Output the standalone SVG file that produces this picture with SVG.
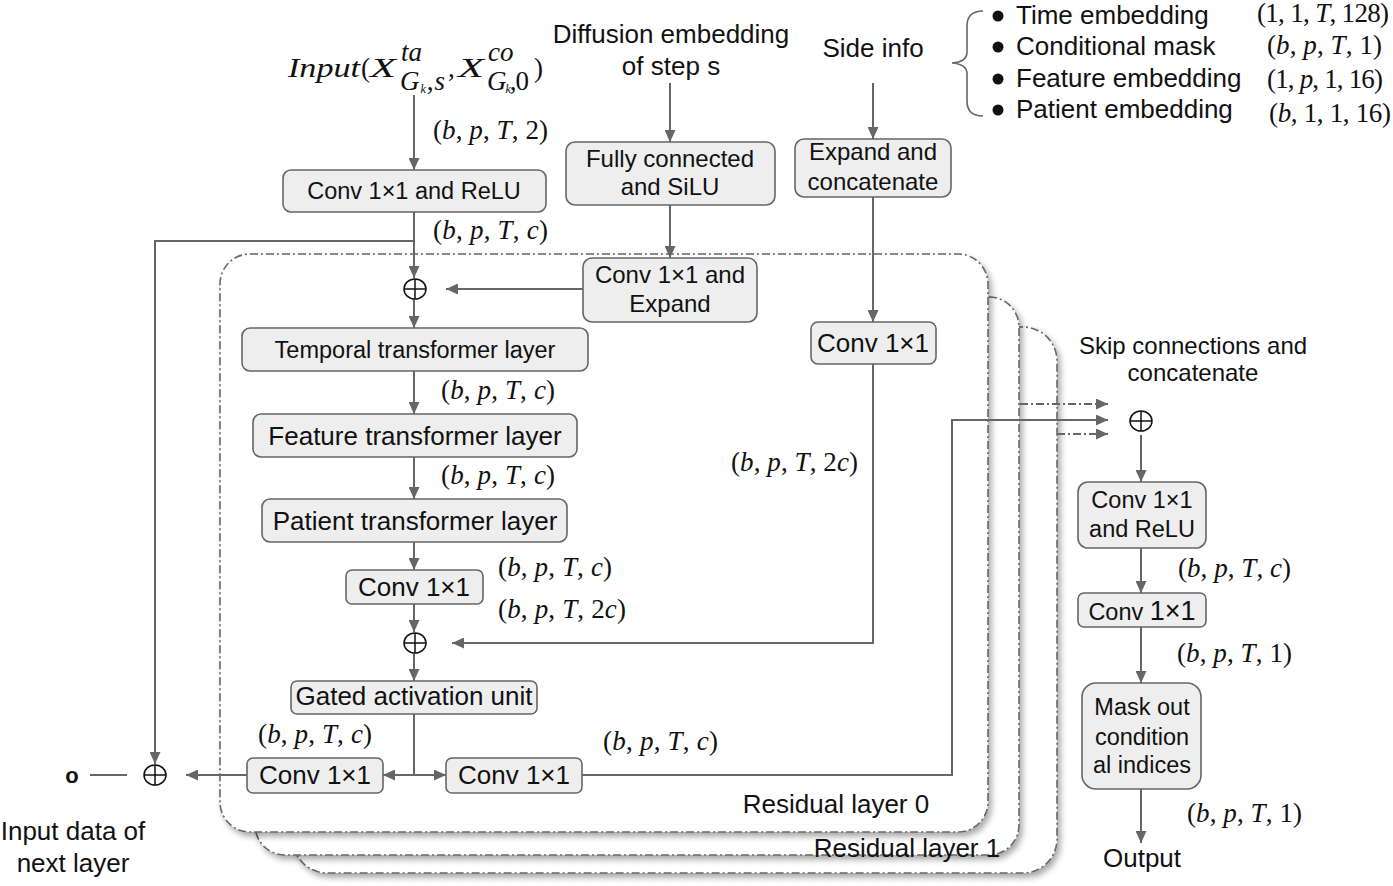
<svg xmlns="http://www.w3.org/2000/svg" width="1393" height="886" viewBox="0 0 1393 886">
<style>
.bx{fill:#eeeeee;stroke:#666;stroke-width:1.6}
.t{font-family:"Liberation Sans",Arial,sans-serif;fill:#111;text-anchor:middle}
.s24{font-size:24px}
.s26{font-size:26px}
.m{font-family:"Liberation Serif","Times New Roman",serif;font-size:27px;fill:#111}
.i{font-style:italic}
.n{font-style:normal}
.c{fill:none;stroke:#666;stroke-width:2}
.dd{stroke-dasharray:8 3 2 3}
.fr{fill:#fff;stroke:#666;stroke-width:1.6;stroke-dasharray:8 3 2 3}
.op{fill:none;stroke:#111;stroke-width:1.5}
</style>
<defs>
<marker id="ah" markerUnits="userSpaceOnUse" markerWidth="13" markerHeight="11" refX="12" refY="5.5" orient="auto">
<path d="M0,0 L12,5.5 L0,11 z" fill="#666"/>
</marker>
<filter id="sh" x="-5%" y="-5%" width="112%" height="112%">
<feDropShadow dx="3" dy="4" stdDeviation="3" flood-color="#000" flood-opacity="0.35"/>
</filter>
</defs>
<rect width="1393" height="886" fill="#fff"/>

<g id="frames">
<rect class="fr" x="293" y="327" width="764" height="546" rx="34" filter="url(#sh)"/>
<rect class="fr" x="255" y="297" width="764" height="558" rx="30" filter="url(#sh)"/>
<text class="t s26" x="907" y="857">Residual layer 1</text>
<rect class="fr" x="220" y="254" width="768" height="578" rx="30" filter="url(#sh)"/>
<text class="t s26" x="836" y="813">Residual layer 0</text>
</g>

<g id="connectors">
<path class="c" d="M414,95 V170" marker-end="url(#ah)"/>
<path class="c" d="M414,212 V278" marker-end="url(#ah)"/>
<path class="c" d="M414,241 H155 V764" marker-end="url(#ah)"/>
<path class="c" d="M414,300 V328" marker-end="url(#ah)"/>
<path class="c" d="M414,371 V414" marker-end="url(#ah)"/>
<path class="c" d="M414,457 V499" marker-end="url(#ah)"/>
<path class="c" d="M414,542 V570" marker-end="url(#ah)"/>
<path class="c" d="M414,604 V632" marker-end="url(#ah)"/>
<path class="c" d="M414,654 V681" marker-end="url(#ah)"/>
<path class="c" d="M414,714 V775"/>
<path class="c" d="M414,775 H383" marker-end="url(#ah)"/>
<path class="c" d="M414,775 H446" marker-end="url(#ah)"/>
<path class="c" d="M247,775 H186" marker-end="url(#ah)"/>
<path d="M90,775 H127" stroke="#333" stroke-width="1.5"/>
<path class="c" d="M670,83 V142" marker-end="url(#ah)"/>
<path class="c" d="M670,205 V258" marker-end="url(#ah)"/>
<path class="c" d="M583,289 H446" marker-end="url(#ah)"/>
<path class="c" d="M873,83 V139" marker-end="url(#ah)"/>
<path class="c" d="M873,197 V322" marker-end="url(#ah)"/>
<path class="c" d="M873,364 V643 H452" marker-end="url(#ah)"/>
<path class="c" d="M582,775 H952 V420 H1108" marker-end="url(#ah)"/>
<path class="c dd" d="M1020,404 H1108" marker-end="url(#ah)"/>
<path class="c dd" d="M1057,434 H1108" marker-end="url(#ah)"/>
<path class="c" d="M1141,435 V482" marker-end="url(#ah)"/>
<path class="c" d="M1141,548 V593" marker-end="url(#ah)"/>
<path class="c" d="M1141,627 V683" marker-end="url(#ah)"/>
<path class="c" d="M1141,789 V843" marker-end="url(#ah)"/>
</g>

<g id="ops">
<g id="add1"><ellipse class="op" cx="415" cy="289" rx="11" ry="10"/><path class="op" d="M404,289 H426 M415,279 V299"/></g>
<g id="add2"><ellipse class="op" cx="415" cy="643" rx="11" ry="10"/><path class="op" d="M404,643 H426 M415,633 V653"/></g>
<g id="add3"><ellipse class="op" cx="155" cy="775" rx="11" ry="10"/><path class="op" d="M144,775 H166 M155,765 V785"/></g>
<g id="add4"><ellipse class="op" cx="1141" cy="421" rx="11" ry="10"/><path class="op" d="M1130,421 H1152 M1141,411 V431"/></g>
</g>

<g id="input">
<text class="m i" x="288" y="77" font-size="30" textLength="72" lengthAdjust="spacingAndGlyphs">Input</text>
<text class="m" x="361" y="77" font-size="30">(</text>
<text class="m i" x="370" y="77" font-size="32" textLength="26" lengthAdjust="spacingAndGlyphs">X</text>
<text class="m i" x="401" y="61" font-size="19">ta</text>
<text class="m i" x="400" y="90" font-size="18" textLength="45">G<tspan font-size="12" dy="3">k</tspan><tspan class="n" dy="-3">,</tspan>s</text>
<text class="m" x="448" y="77" font-size="30">,</text>
<text class="m i" x="458" y="77" font-size="32" textLength="26" lengthAdjust="spacingAndGlyphs">X</text>
<text class="m i" x="488" y="61" font-size="19">co</text>
<text class="m i" x="487" y="90" font-size="18" textLength="42">G<tspan font-size="12" dy="3">k</tspan><tspan class="n" dy="-3">,0</tspan></text>
<text class="m" x="534" y="77" font-size="30">)</text>
</g>

<g id="diffusion"><text class="t s26" x="671" y="43">Diffusion embedding</text><text class="t s26" x="671" y="75">of step s</text></g>
<g id="sideinfo"><text class="t s26" x="873" y="57">Side info</text></g>

<g id="legend">
<path d="M983,11 Q967,11 967,26 V52 Q967,62 952,63 Q967,64 967,74 V101 Q967,116 983,116" fill="none" stroke="#666" stroke-width="1.6"/>
<circle cx="998" cy="16" r="5.5" fill="#111"/>
<circle cx="998" cy="47" r="5.5" fill="#111"/>
<circle cx="998" cy="79" r="5.5" fill="#111"/>
<circle cx="998" cy="110" r="5.5" fill="#111"/>
<text class="t s26" x="1016" y="24" style="text-anchor:start">Time embedding</text>
<text class="t s26" x="1016" y="55" style="text-anchor:start">Conditional mask</text>
<text class="t s26" x="1016" y="87" style="text-anchor:start">Feature embedding</text>
<text class="t s26" x="1016" y="118" style="text-anchor:start">Patient embedding</text>
<text class="m" x="1257" y="22" textLength="132">(1, 1, <tspan class="i">T</tspan>, 128)</text>
<text class="m" x="1267" y="54" textLength="115">(<tspan class="i">b</tspan>, <tspan class="i">p</tspan>, <tspan class="i">T</tspan>, 1)</text>
<text class="m" x="1267" y="88" textLength="116">(1, <tspan class="i">p</tspan>, 1, 16)</text>
<text class="m" x="1269" y="122" textLength="122">(<tspan class="i">b</tspan>, 1, 1, 16)</text>
</g>

<g id="conv_relu"><rect class="bx" x="283" y="170" width="263" height="42" rx="8"/><text class="t" font-size="23.5" x="414" y="199">Conv 1×1 and ReLU</text></g>
<g id="fc_silu"><rect class="bx" x="566" y="142" width="209" height="63" rx="9"/><text class="t s24" x="670" y="167">Fully connected</text><text class="t s24" x="670" y="195">and SiLU</text></g>
<g id="expand_concat"><rect class="bx" x="795" y="139" width="156" height="58" rx="9"/><text class="t s24" x="873" y="160">Expand and</text><text class="t s24" x="873" y="190">concatenate</text></g>
<g id="conv_expand"><rect class="bx" x="583" y="258" width="174" height="64" rx="9"/><text class="t s24" x="670" y="283">Conv 1×1 and</text><text class="t s24" x="670" y="312">Expand</text></g>
<g id="conv_side"><rect class="bx" x="811" y="322" width="125" height="42" rx="7"/><text class="t s26" x="873" y="352">Conv 1×1</text></g>
<g id="temporal"><rect class="bx" x="242" y="328" width="346" height="43" rx="8"/><text class="t" font-size="23.5" x="415" y="358">Temporal transformer layer</text></g>
<g id="feature"><rect class="bx" x="253" y="414" width="324" height="43" rx="8"/><text class="t s26" x="415" y="445">Feature transformer layer</text></g>
<g id="patient"><rect class="bx" x="262" y="499" width="305" height="43" rx="8"/><text class="t s26" x="415" y="530">Patient transformer layer</text></g>
<g id="conv_mid"><rect class="bx" x="346" y="570" width="137" height="34" rx="6"/><text class="t s26" x="414" y="596">Conv 1×1</text></g>
<g id="gated"><rect class="bx" x="291" y="681" width="246" height="33" rx="6"/><text class="t s26" x="414" y="705">Gated activation unit</text></g>
<g id="conv_left"><rect class="bx" x="247" y="758" width="136" height="35" rx="6"/><text class="t s26" x="315" y="784">Conv 1×1</text></g>
<g id="conv_right"><rect class="bx" x="446" y="758" width="136" height="35" rx="6"/><text class="t s26" x="514" y="784">Conv 1×1</text></g>

<g id="skip_label"><text class="t s24" x="1193" y="354">Skip connections and</text><text class="t s24" x="1193" y="381">concatenate</text></g>
<g id="out_conv_relu"><rect class="bx" x="1078" y="482" width="128" height="66" rx="10"/><text class="t" font-size="23.5" x="1142" y="508">Conv 1×1</text><text class="t" font-size="23.5" x="1142" y="537">and ReLU</text></g>
<g id="out_conv"><rect class="bx" x="1078" y="593" width="128" height="34" rx="6"/><text class="t" font-size="23.5" x="1142" y="620">Conv <tspan font-size="27">1×1</tspan></text></g>
<g id="mask"><rect class="bx" x="1082" y="683" width="119" height="106" rx="14"/><text class="t" font-size="23.5" x="1142" y="715">Mask out</text><text class="t" font-size="23.5" x="1142" y="745">condition</text><text class="t" font-size="23.5" x="1142" y="773">al indices</text></g>
<g id="output"><text class="t s26" x="1142" y="867">Output</text></g>
<g id="next_input"><text class="t" font-size="22" font-weight="bold" x="72" y="783">o</text><text class="t s26" x="73" y="840">Input data of</text><text class="t s26" x="73" y="872">next layer</text></g>

<g id="shapes">
<text class="m" x="433" y="139" textLength="115">(<tspan class="i">b</tspan>, <tspan class="i">p</tspan>, <tspan class="i">T</tspan>, 2)</text>
<text class="m" x="433" y="239" textLength="115">(<tspan class="i">b</tspan>, <tspan class="i">p</tspan>, <tspan class="i">T</tspan>, <tspan class="i">c</tspan>)</text>
<text class="m" x="441" y="399" textLength="114">(<tspan class="i">b</tspan>, <tspan class="i">p</tspan>, <tspan class="i">T</tspan>, <tspan class="i">c</tspan>)</text>
<text class="m" x="441" y="484" textLength="114">(<tspan class="i">b</tspan>, <tspan class="i">p</tspan>, <tspan class="i">T</tspan>, <tspan class="i">c</tspan>)</text>
<text class="m" x="498" y="576" textLength="114">(<tspan class="i">b</tspan>, <tspan class="i">p</tspan>, <tspan class="i">T</tspan>, <tspan class="i">c</tspan>)</text>
<text class="m" x="498" y="618" textLength="128">(<tspan class="i">b</tspan>, <tspan class="i">p</tspan>, <tspan class="i">T</tspan>, 2<tspan class="i">c</tspan>)</text>
<text class="m" x="731" y="471" textLength="127">(<tspan class="i">b</tspan>, <tspan class="i">p</tspan>, <tspan class="i">T</tspan>, 2<tspan class="i">c</tspan>)</text>
<text class="m" x="258" y="743" textLength="114">(<tspan class="i">b</tspan>, <tspan class="i">p</tspan>, <tspan class="i">T</tspan>, <tspan class="i">c</tspan>)</text>
<text class="m" x="603" y="750" textLength="115">(<tspan class="i">b</tspan>, <tspan class="i">p</tspan>, <tspan class="i">T</tspan>, <tspan class="i">c</tspan>)</text>
<text class="m" x="1178" y="577" textLength="113">(<tspan class="i">b</tspan>, <tspan class="i">p</tspan>, <tspan class="i">T</tspan>, <tspan class="i">c</tspan>)</text>
<text class="m" x="1177" y="662" textLength="115">(<tspan class="i">b</tspan>, <tspan class="i">p</tspan>, <tspan class="i">T</tspan>, 1)</text>
<text class="m" x="1187" y="822" textLength="115">(<tspan class="i">b</tspan>, <tspan class="i">p</tspan>, <tspan class="i">T</tspan>, 1)</text>
</g>
</svg>
